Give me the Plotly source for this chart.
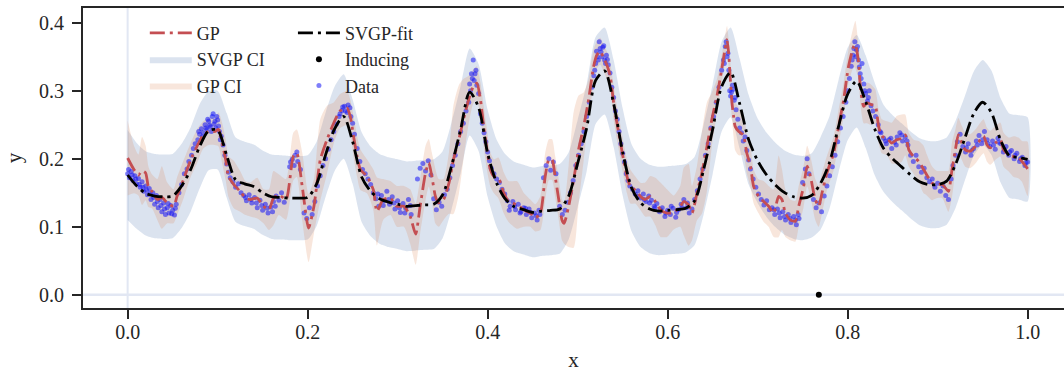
import numpy as np
import plotly.graph_objects as go

# ---------------- data ----------------
# SVGP posterior on a regular grid
svgp_x = [round(0.01 * i, 2) for i in range(101)]
svgp_mean = [
    0.176, 0.160, 0.149, 0.145, 0.144, 0.145, 0.160, 0.184, 0.218, 0.241,
    0.242, 0.205, 0.169, 0.163, 0.159, 0.150, 0.144, 0.143, 0.142, 0.142,
    0.143, 0.163, 0.206, 0.244, 0.262, 0.225, 0.173, 0.152, 0.141, 0.136,
    0.133, 0.130, 0.131, 0.132, 0.133, 0.147, 0.190, 0.243, 0.298, 0.275,
    0.208, 0.164, 0.140, 0.129, 0.125, 0.121, 0.123, 0.124, 0.126, 0.145,
    0.193, 0.245, 0.315, 0.329, 0.281, 0.210, 0.157, 0.135, 0.126, 0.123,
    0.124, 0.125, 0.127, 0.138, 0.184, 0.243, 0.306, 0.327, 0.281, 0.228,
    0.197, 0.176, 0.161, 0.150, 0.144, 0.142, 0.146, 0.164, 0.195, 0.248,
    0.295, 0.314, 0.284, 0.244, 0.215, 0.200, 0.188, 0.176, 0.166, 0.162,
    0.162, 0.167, 0.192, 0.229, 0.266, 0.283, 0.267, 0.227, 0.204, 0.202,
    0.199,
]
svgp_halfwidth = [
    0.066, 0.063, 0.062, 0.062, 0.062, 0.062, 0.062, 0.062, 0.062, 0.058,
    0.058, 0.062, 0.062, 0.062, 0.062, 0.062, 0.062, 0.062, 0.062, 0.062,
    0.062, 0.062, 0.062, 0.062, 0.062, 0.062, 0.066, 0.066, 0.066, 0.066,
    0.066, 0.066, 0.066, 0.066, 0.066, 0.064, 0.064, 0.064, 0.064, 0.064,
    0.064, 0.064, 0.066, 0.066, 0.066, 0.066, 0.066, 0.066, 0.066, 0.064,
    0.064, 0.064, 0.064, 0.064, 0.064, 0.064, 0.064, 0.065, 0.065, 0.065,
    0.065, 0.065, 0.065, 0.065, 0.066, 0.066, 0.066, 0.066, 0.066, 0.066,
    0.062, 0.062, 0.062, 0.062, 0.062, 0.062, 0.062, 0.068, 0.068, 0.068,
    0.068, 0.068, 0.068, 0.068, 0.064, 0.064, 0.064, 0.064, 0.064, 0.064,
    0.064, 0.064, 0.064, 0.062, 0.062, 0.062, 0.062, 0.062, 0.062, 0.062,
    0.062,
]

# exact GP posterior mean and CI half-width
gp_x = [
    0.000, 0.007, 0.012, 0.016, 0.020, 0.023, 0.027, 0.033, 0.038, 0.044,
    0.051, 0.055, 0.062, 0.070, 0.077, 0.084, 0.090, 0.097, 0.101, 0.105,
    0.109, 0.112, 0.118, 0.125, 0.131, 0.136, 0.144, 0.151, 0.157, 0.162,
    0.168, 0.176, 0.184, 0.188, 0.194, 0.201, 0.207, 0.214, 0.2215, 0.229,
    0.236, 0.2437, 0.2474, 0.251, 0.255, 0.2586, 0.266, 0.273, 0.277, 0.284,
    0.292, 0.299, 0.307, 0.314, 0.320, 0.325, 0.331, 0.3346, 0.338, 0.342,
    0.3456, 0.351, 0.357, 0.362, 0.368, 0.373, 0.379, 0.384, 0.388, 0.392,
    0.3956, 0.3993, 0.403, 0.407, 0.412, 0.418, 0.4233, 0.4326, 0.440, 0.4474,
    0.453, 0.4586, 0.464, 0.468, 0.4716, 0.475, 0.479, 0.4826, 0.485, 0.490,
    0.4956, 0.501, 0.5067, 0.5122, 0.5178, 0.5215, 0.525, 0.529, 0.533, 0.5363,
    0.540, 0.5437, 0.547, 0.551, 0.5548, 0.5586, 0.564, 0.5697, 0.575, 0.5808,
    0.5863, 0.592, 0.5993, 0.6067, 0.614, 0.618, 0.6233, 0.6271, 0.6326, 0.638,
    0.6437, 0.649, 0.6548, 0.660, 0.6637, 0.666, 0.6678, 0.6697, 0.6715, 0.6733,
    0.675, 0.679, 0.684, 0.688, 0.692, 0.6956, 0.701, 0.7067, 0.7122, 0.7178,
    0.7233, 0.727, 0.7308, 0.7363, 0.7419, 0.7456, 0.7511, 0.755, 0.7586, 0.764,
    0.7678, 0.7715, 0.777, 0.7844, 0.790, 0.7956, 0.801, 0.8067, 0.8086, 0.8122,
    0.8141, 0.8178, 0.8215, 0.8252, 0.8307, 0.8344, 0.838, 0.8437, 0.849, 0.8548,
    0.860, 0.864, 0.868, 0.8733, 0.879, 0.8844, 0.888, 0.8937, 0.8993, 0.905,
    0.9086, 0.912, 0.916, 0.9197, 0.923, 0.927, 0.9307, 0.936, 0.9419, 0.9474,
    0.951, 0.9548, 0.9585, 0.964, 0.9697, 0.9733, 0.979, 0.9844, 0.990, 0.9937,
    1.000,
]
gp_mean = [
    0.201, 0.184, 0.176, 0.182, 0.179, 0.159, 0.152, 0.140, 0.143, 0.135,
    0.130, 0.145, 0.169, 0.198, 0.218, 0.235, 0.240, 0.240, 0.243, 0.223,
    0.198, 0.174, 0.162, 0.152, 0.142, 0.140, 0.142, 0.130, 0.125, 0.142,
    0.147, 0.140, 0.203, 0.208, 0.159, 0.098, 0.130, 0.198, 0.228, 0.2525,
    0.270, 0.2745, 0.262, 0.233, 0.203, 0.184, 0.174, 0.154, 0.1225, 0.140,
    0.142, 0.130, 0.130, 0.115, 0.089, 0.130, 0.179, 0.194, 0.174, 0.1446,
    0.135, 0.140, 0.164, 0.1985, 0.228, 0.257, 0.287, 0.306, 0.311, 0.287,
    0.2475, 0.213, 0.184, 0.174, 0.1716, 0.1495, 0.137, 0.132, 0.125, 0.120,
    0.113, 0.120, 0.174, 0.1985, 0.1985, 0.174, 0.140, 0.110, 0.105, 0.130,
    0.169, 0.213, 0.2475, 0.287, 0.336, 0.353, 0.358, 0.348, 0.336, 0.321,
    0.282, 0.2525, 0.228, 0.1985, 0.174, 0.159, 0.154, 0.1446, 0.140, 0.1446,
    0.137, 0.125, 0.120, 0.121, 0.130, 0.137, 0.132, 0.120, 0.1495, 0.179,
    0.218, 0.257, 0.292, 0.331, 0.360, 0.375, 0.355, 0.316, 0.282, 0.262,
    0.2475, 0.240, 0.235, 0.208, 0.189, 0.159, 0.1446, 0.137, 0.130, 0.120,
    0.1446, 0.140, 0.120, 0.110, 0.108, 0.130, 0.159, 0.189, 0.174, 0.140,
    0.130, 0.1495, 0.179, 0.208, 0.2475, 0.287, 0.336, 0.365, 0.368, 0.341,
    0.306, 0.277, 0.282, 0.280, 0.277, 0.2475, 0.233, 0.230, 0.223, 0.228,
    0.230, 0.235, 0.213, 0.203, 0.196, 0.184, 0.176, 0.164, 0.162, 0.162,
    0.157, 0.152, 0.184, 0.213, 0.235, 0.223, 0.213, 0.211, 0.218, 0.228,
    0.233, 0.2206, 0.216, 0.223, 0.228, 0.213, 0.206, 0.203, 0.201, 0.196,
    0.185,
]
gp_halfwidth = [
    0.055, 0.035, 0.030, 0.050, 0.040, 0.030, 0.025, 0.030, 0.046, 0.030,
    0.025, 0.028, 0.028, 0.025, 0.025, 0.020, 0.020, 0.020, 0.025, 0.030,
    0.030, 0.030, 0.035, 0.030, 0.025, 0.025, 0.030, 0.025, 0.030, 0.040,
    0.030, 0.030, 0.035, 0.035, 0.050, 0.050, 0.040, 0.060, 0.050, 0.030,
    0.025, 0.025, 0.025, 0.030, 0.030, 0.030, 0.025, 0.030, 0.050, 0.030,
    0.025, 0.030, 0.030, 0.040, 0.045, 0.040, 0.040, 0.035, 0.035, 0.040,
    0.035, 0.030, 0.045, 0.080, 0.080, 0.060, 0.035, 0.025, 0.025, 0.025,
    0.030, 0.030, 0.025, 0.025, 0.030, 0.030, 0.030, 0.035, 0.025, 0.020,
    0.020, 0.025, 0.035, 0.030, 0.030, 0.030, 0.030, 0.030, 0.030, 0.060,
    0.100, 0.080, 0.050, 0.030, 0.025, 0.020, 0.020, 0.020, 0.020, 0.020,
    0.025, 0.025, 0.025, 0.025, 0.025, 0.025, 0.020, 0.020, 0.025, 0.030,
    0.035, 0.040, 0.035, 0.025, 0.030, 0.050, 0.060, 0.040, 0.040, 0.060,
    0.065, 0.040, 0.025, 0.020, 0.020, 0.020, 0.020, 0.025, 0.025, 0.030,
    0.035, 0.035, 0.030, 0.030, 0.030, 0.025, 0.025, 0.030, 0.030, 0.035,
    0.060, 0.045, 0.035, 0.030, 0.030, 0.030, 0.030, 0.030, 0.030, 0.030,
    0.030, 0.030, 0.025, 0.025, 0.025, 0.025, 0.025, 0.030, 0.035, 0.025,
    0.025, 0.025, 0.030, 0.030, 0.025, 0.025, 0.025, 0.025, 0.030, 0.035,
    0.035, 0.030, 0.025, 0.025, 0.030, 0.035, 0.030, 0.025, 0.020, 0.020,
    0.025, 0.030, 0.040, 0.030, 0.025, 0.025, 0.025, 0.025, 0.025, 0.025,
    0.025, 0.025, 0.025, 0.025, 0.025, 0.025, 0.025, 0.030, 0.030, 0.030,
    0.040,
]

# noisy observations
data_x = [
    0.000, 0.002, 0.004, 0.006, 0.008, 0.010, 0.012, 0.014, 0.016, 0.018,
    0.020, 0.022, 0.024, 0.026, 0.028, 0.030, 0.032, 0.034, 0.036, 0.038,
    0.040, 0.042, 0.044, 0.046, 0.048, 0.050, 0.052, 0.054,
    0.057, 0.060, 0.063, 0.066, 0.068, 0.071, 0.073, 0.075, 0.078, 0.080,
    0.082, 0.084, 0.086, 0.088, 0.090, 0.092, 0.094, 0.096, 0.098, 0.100,
    0.102, 0.104, 0.106, 0.108, 0.110, 0.112, 0.114, 0.117, 0.120, 0.123, 0.126,
    0.129, 0.132, 0.135, 0.138, 0.141, 0.144, 0.147, 0.150, 0.153, 0.156,
    0.159, 0.162, 0.165, 0.168, 0.171, 0.174,
    0.180, 0.183, 0.186, 0.189, 0.192, 0.196, 0.199, 0.202, 0.205, 0.208,
    0.211, 0.214, 0.217, 0.220, 0.223, 0.226, 0.229, 0.232, 0.235, 0.238,
    0.241, 0.244, 0.247, 0.250, 0.252, 0.255, 0.258, 0.261, 0.264, 0.267,
    0.270, 0.273, 0.276, 0.279, 0.282, 0.285, 0.288, 0.291, 0.294, 0.297,
    0.300, 0.303, 0.306, 0.309, 0.312, 0.315,
    0.322, 0.325, 0.328, 0.331, 0.334, 0.337,
    0.340, 0.343, 0.346, 0.349, 0.352, 0.355,
    0.358, 0.361, 0.364, 0.367, 0.370, 0.373, 0.376, 0.379, 0.381, 0.383,
    0.384, 0.386, 0.388, 0.390,
    0.392, 0.394, 0.396, 0.398, 0.400, 0.402, 0.404, 0.407, 0.410, 0.413,
    0.416, 0.419,
    0.422, 0.425, 0.428, 0.431, 0.434, 0.437, 0.440, 0.443, 0.446, 0.449,
    0.452, 0.455, 0.458,
    0.462, 0.465, 0.468, 0.470, 0.473, 0.476,
    0.480, 0.483, 0.486, 0.489,
    0.492, 0.495, 0.498, 0.501, 0.504, 0.507, 0.510, 0.513, 0.516, 0.518,
    0.520, 0.522, 0.524, 0.526, 0.528, 0.530, 0.532, 0.534, 0.536,
    0.538, 0.540, 0.542, 0.544, 0.546, 0.548, 0.550, 0.552, 0.554, 0.556, 0.558,
    0.561, 0.564, 0.567, 0.570, 0.573, 0.576, 0.579, 0.582, 0.585, 0.588,
    0.591, 0.594, 0.597, 0.600, 0.603, 0.606, 0.609, 0.612, 0.615, 0.618,
    0.621, 0.624, 0.627,
    0.630, 0.633, 0.636, 0.639, 0.642, 0.645, 0.648, 0.651, 0.654, 0.657,
    0.660, 0.662, 0.664, 0.666,
    0.668, 0.669, 0.670, 0.672, 0.674, 0.676, 0.678, 0.680, 0.682, 0.684,
    0.686, 0.688, 0.690, 0.692, 0.695, 0.698, 0.701, 0.704, 0.707, 0.710,
    0.713, 0.716,
    0.719, 0.722, 0.725, 0.728, 0.731, 0.734, 0.737, 0.740, 0.743, 0.746,
    0.750, 0.753, 0.755, 0.757,
    0.762, 0.765, 0.768, 0.771, 0.774,
    0.777, 0.780, 0.783, 0.786, 0.789, 0.792, 0.795, 0.798, 0.800, 0.802,
    0.804, 0.806, 0.808, 0.810, 0.812,
    0.814, 0.816, 0.818, 0.820, 0.822, 0.824, 0.826, 0.828, 0.831, 0.834,
    0.837, 0.840, 0.843, 0.846, 0.849, 0.852, 0.855, 0.858, 0.861, 0.864, 0.867,
    0.870, 0.873, 0.876, 0.879, 0.882, 0.885, 0.888, 0.891, 0.894, 0.897,
    0.900, 0.903, 0.906, 0.909, 0.912,
    0.915, 0.917, 0.920, 0.922, 0.925, 0.928,
    0.931, 0.934, 0.937, 0.940, 0.943, 0.946, 0.949, 0.952, 0.955, 0.958,
    0.961, 0.964, 0.967, 0.970, 0.973, 0.976, 0.979, 0.982, 0.985, 0.988,
    0.991, 0.994, 0.997, 1.000,
    # second sweep through the densely sampled stretches
    0.001, 0.005, 0.009, 0.013, 0.017, 0.021, 0.025, 0.029, 0.033, 0.037,
    0.041, 0.045, 0.049, 0.053,
    0.079, 0.083, 0.087, 0.089, 0.091, 0.093, 0.095, 0.097, 0.099, 0.101, 0.103,
    0.131, 0.137, 0.143, 0.149, 0.155, 0.161, 0.164,
    0.181, 0.185, 0.188,
    0.236, 0.239, 0.242, 0.245, 0.248,
    0.278, 0.284, 0.290, 0.296, 0.302, 0.308, 0.314,
    0.380, 0.382, 0.385, 0.387,
    0.424, 0.430, 0.436, 0.442, 0.448, 0.454, 0.457,
    0.519, 0.521, 0.523, 0.525, 0.527, 0.529, 0.531, 0.533,
    0.568, 0.574, 0.580, 0.586, 0.592, 0.598, 0.604, 0.610, 0.616, 0.622,
    0.663, 0.665, 0.667, 0.671, 0.673, 0.675,
    0.718, 0.724, 0.730, 0.736, 0.742, 0.745,
    0.805, 0.807, 0.809, 0.811, 0.813, 0.815, 0.819, 0.823,
    0.836, 0.842, 0.848, 0.854, 0.860, 0.866,
    0.932, 0.938, 0.944, 0.950, 0.956, 0.962, 0.968, 0.974, 0.980, 0.986,
    0.992, 0.998,
]
data_y = [
    0.178, 0.172, 0.181, 0.168, 0.175, 0.163, 0.171, 0.158, 0.166, 0.152,
    0.160, 0.147, 0.156, 0.140, 0.150, 0.133, 0.146, 0.128, 0.140, 0.122,
    0.135, 0.118, 0.128, 0.120, 0.131, 0.124, 0.117, 0.133,
    0.150, 0.162, 0.178, 0.185, 0.196, 0.205, 0.215, 0.222, 0.228, 0.236,
    0.244, 0.238, 0.250, 0.243, 0.255, 0.247, 0.262, 0.251, 0.245, 0.257,
    0.240, 0.233, 0.220, 0.205, 0.192, 0.180, 0.172, 0.166, 0.158, 0.163, 0.150,
    0.146, 0.138, 0.147, 0.135, 0.143, 0.128, 0.139, 0.124, 0.133, 0.120,
    0.129, 0.137, 0.145, 0.139, 0.150, 0.136,
    0.188, 0.199, 0.205, 0.196, 0.184, 0.120, 0.112, 0.128, 0.118, 0.137,
    0.160, 0.175, 0.190, 0.200, 0.214, 0.228, 0.240, 0.251, 0.262, 0.271,
    0.277, 0.268, 0.275, 0.252, 0.236, 0.215, 0.196, 0.184, 0.178, 0.170,
    0.162, 0.150, 0.141, 0.130, 0.146, 0.138, 0.152, 0.133, 0.144, 0.126,
    0.138, 0.121, 0.134, 0.127, 0.140, 0.118,
    0.170, 0.186, 0.193, 0.182, 0.197, 0.176,
    0.141, 0.125, 0.136, 0.130, 0.147, 0.155,
    0.172, 0.190, 0.205, 0.222, 0.240, 0.252, 0.270, 0.283, 0.300, 0.318,
    0.345, 0.325, 0.308, 0.296,
    0.266, 0.252, 0.238, 0.225, 0.210, 0.197, 0.186, 0.178, 0.170, 0.165,
    0.155, 0.148,
    0.138, 0.130, 0.137, 0.125, 0.133, 0.122, 0.128, 0.118, 0.126, 0.113,
    0.120, 0.110, 0.118,
    0.172, 0.190, 0.200, 0.183, 0.195, 0.178,
    0.130, 0.118, 0.124, 0.136,
    0.150, 0.168, 0.190, 0.205, 0.222, 0.240, 0.262, 0.283, 0.305, 0.322,
    0.340, 0.350, 0.372, 0.357, 0.364, 0.345, 0.352, 0.338, 0.326,
    0.305, 0.290, 0.270, 0.258, 0.240, 0.222, 0.208, 0.195, 0.178, 0.168, 0.160,
    0.155, 0.148, 0.153, 0.142, 0.148, 0.137, 0.145, 0.139, 0.130, 0.134,
    0.122, 0.128, 0.115, 0.124, 0.118, 0.127, 0.114, 0.125, 0.133, 0.140,
    0.128, 0.120, 0.126,
    0.140, 0.153, 0.170, 0.185, 0.205, 0.222, 0.245, 0.262, 0.283, 0.305,
    0.330, 0.345, 0.365, 0.350,
    0.330, 0.300, 0.292, 0.308, 0.286, 0.272, 0.258, 0.245, 0.238, 0.226,
    0.232, 0.212, 0.198, 0.185, 0.170, 0.158, 0.148, 0.140, 0.132, 0.138,
    0.125, 0.128,
    0.118, 0.126, 0.113, 0.122, 0.110, 0.118, 0.106, 0.115, 0.103, 0.112,
    0.165, 0.185, 0.200, 0.178,
    0.140, 0.128, 0.135, 0.122, 0.145,
    0.160, 0.175, 0.188, 0.205, 0.225, 0.245, 0.262, 0.283, 0.300, 0.318,
    0.336, 0.352, 0.372, 0.360, 0.345,
    0.325, 0.340, 0.310, 0.296, 0.285, 0.300, 0.278, 0.270, 0.262, 0.250,
    0.238, 0.230, 0.222, 0.228, 0.215, 0.224, 0.232, 0.238, 0.226, 0.232, 0.220,
    0.205, 0.196, 0.205, 0.188, 0.180, 0.186, 0.172, 0.166, 0.170, 0.158,
    0.164, 0.152, 0.160, 0.146, 0.140,
    0.170, 0.190, 0.205, 0.225, 0.236, 0.218,
    0.210, 0.222, 0.205, 0.215, 0.226, 0.234, 0.222, 0.240, 0.228, 0.218,
    0.226, 0.214, 0.230, 0.222, 0.210, 0.218, 0.205, 0.212, 0.200, 0.208,
    0.196, 0.202, 0.190, 0.195,
    # second sweep
    0.184, 0.176, 0.170, 0.162, 0.158, 0.154, 0.149, 0.143, 0.137, 0.131,
    0.126, 0.134, 0.119, 0.127,
    0.240, 0.232, 0.245, 0.258, 0.249, 0.240, 0.266, 0.255, 0.262, 0.248, 0.228,
    0.143, 0.140, 0.135, 0.131, 0.127, 0.122, 0.130,
    0.195, 0.190, 0.210,
    0.266, 0.276, 0.270, 0.279, 0.262,
    0.148, 0.131, 0.140, 0.135, 0.128, 0.120, 0.131,
    0.310, 0.325, 0.315, 0.330,
    0.124, 0.130, 0.120, 0.127, 0.121, 0.116, 0.124,
    0.330, 0.358, 0.345, 0.362, 0.350, 0.366, 0.340, 0.346,
    0.145, 0.140, 0.135, 0.128, 0.125, 0.120, 0.130, 0.121, 0.128, 0.135,
    0.340, 0.372, 0.355, 0.298, 0.302, 0.290,
    0.125, 0.120, 0.115, 0.112, 0.110, 0.118,
    0.345, 0.362, 0.350, 0.365, 0.335, 0.318, 0.300, 0.290,
    0.240, 0.226, 0.230, 0.220, 0.235, 0.226,
    0.216, 0.212, 0.220, 0.228, 0.222, 0.220, 0.224, 0.214, 0.210, 0.205,
    0.200, 0.194,
]

inducing_x = [0.768]
inducing_y = [0.0]

x_ticks = [0.0, 0.2, 0.4, 0.6, 0.8, 1.0]
x_tick_labels = ["0.0", "0.2", "0.4", "0.6", "0.8", "1.0"]
y_ticks = [0.0, 0.1, 0.2, 0.3, 0.4]
y_tick_labels = ["0.0", "0.1", "0.2", "0.3", "0.4"]

# ---------------- styling ----------------
FONT = "Liberation Serif"
INK = "#262626"
RED = "rgb(196,78,82)"
SVGP_FILL = "rgba(76,114,176,0.2)"
GP_FILL = "rgba(221,132,82,0.2)"
GUIDE = "#e2e7f3"
DASHDOT = "15px,5px,3px,5px"


def band(x, center, half):
    c = np.asarray(center)
    h = np.asarray(half)
    xs = list(x) + list(x)[::-1]
    ys = list(c + h) + list((c - h)[::-1])
    return xs, ys


fig = go.Figure()

sx, sy = band(svgp_x, svgp_mean, svgp_halfwidth)
fig.add_trace(go.Scatter(
    x=sx, y=sy, fill="toself", fillcolor=SVGP_FILL, mode="lines",
    line=dict(width=0, color="rgba(0,0,0,0)", shape="spline", smoothing=0.6),
    name="SVGP CI", legend="legend", legendrank=2, hoverinfo="skip",
))

gx, gy = band(gp_x, gp_mean, gp_halfwidth)
fig.add_trace(go.Scatter(
    x=gx, y=gy, fill="toself", fillcolor=GP_FILL, mode="lines",
    line=dict(width=0, color="rgba(0,0,0,0)", shape="spline", smoothing=0.6),
    name="GP CI", legend="legend", legendrank=3, hoverinfo="skip",
))

fig.add_trace(go.Scatter(
    x=data_x, y=data_y, mode="markers",
    marker=dict(size=5, color="rgba(20,20,245,0.55)", line=dict(width=0)),
    name="Data", legend="legend2", legendrank=3,
))

fig.add_trace(go.Scatter(
    x=gp_x, y=gp_mean, mode="lines",
    line=dict(color=RED, width=2.8, dash=DASHDOT, shape="spline", smoothing=0.6),
    name="GP", legend="legend", legendrank=1,
))

fig.add_trace(go.Scatter(
    x=svgp_x, y=svgp_mean, mode="lines",
    line=dict(color="black", width=2.8, dash=DASHDOT, shape="spline", smoothing=0.8),
    name="SVGP-fit", legend="legend2", legendrank=1,
))

fig.add_trace(go.Scatter(
    x=inducing_x, y=inducing_y, mode="markers",
    marker=dict(size=6, color="black"),
    name="Inducing", legend="legend2", legendrank=2,
))

# faint guide lines at x = 0 and y = 0
fig.add_shape(type="line", xref="x", yref="paper", x0=0, x1=0, y0=0, y1=1,
              line=dict(color=GUIDE, width=2), layer="below")
fig.add_shape(type="line", xref="paper", yref="y", x0=0, x1=1, y0=0, y1=0,
              line=dict(color=GUIDE, width=2.5), layer="below")

axis_common = dict(
    showgrid=False, zeroline=False, showline=True, linecolor=INK, linewidth=2,
    ticks="outside", ticklen=9, tickwidth=2, tickcolor=INK,
    tickfont=dict(family=FONT, size=20, color=INK),
)

legend_common = dict(
    bgcolor="rgba(0,0,0,0)", borderwidth=0, font=dict(family=FONT, size=18, color=INK),
    xanchor="left", yanchor="top", orientation="v", traceorder="normal",
    itemwidth=42, tracegroupgap=0,
)

fig.update_layout(
    width=1064, height=378,
    margin=dict(l=83, r=0, t=8, b=70),
    paper_bgcolor="white", plot_bgcolor="white",
    font=dict(family=FONT, color=INK),
    xaxis=dict(range=[-0.0496, 1.0404], tickvals=x_ticks, ticktext=x_tick_labels,
               mirror=True, ticklabelstandoff=-4,
               title=dict(text="x", font=dict(family=FONT, size=21, color=INK), standoff=10),
               **axis_common),
    yaxis=dict(range=[-0.0196, 0.4216], tickvals=y_ticks, ticktext=y_tick_labels,
               ticklabelstandoff=4,
               title=dict(text="y", font=dict(family=FONT, size=21, color=INK), standoff=12),
               **axis_common),
    legend=dict(x=0.063, y=0.978, **legend_common),
    legend2=dict(x=0.214, y=0.978, **legend_common),
    showlegend=True,
)

fig.write_html("out.html")
